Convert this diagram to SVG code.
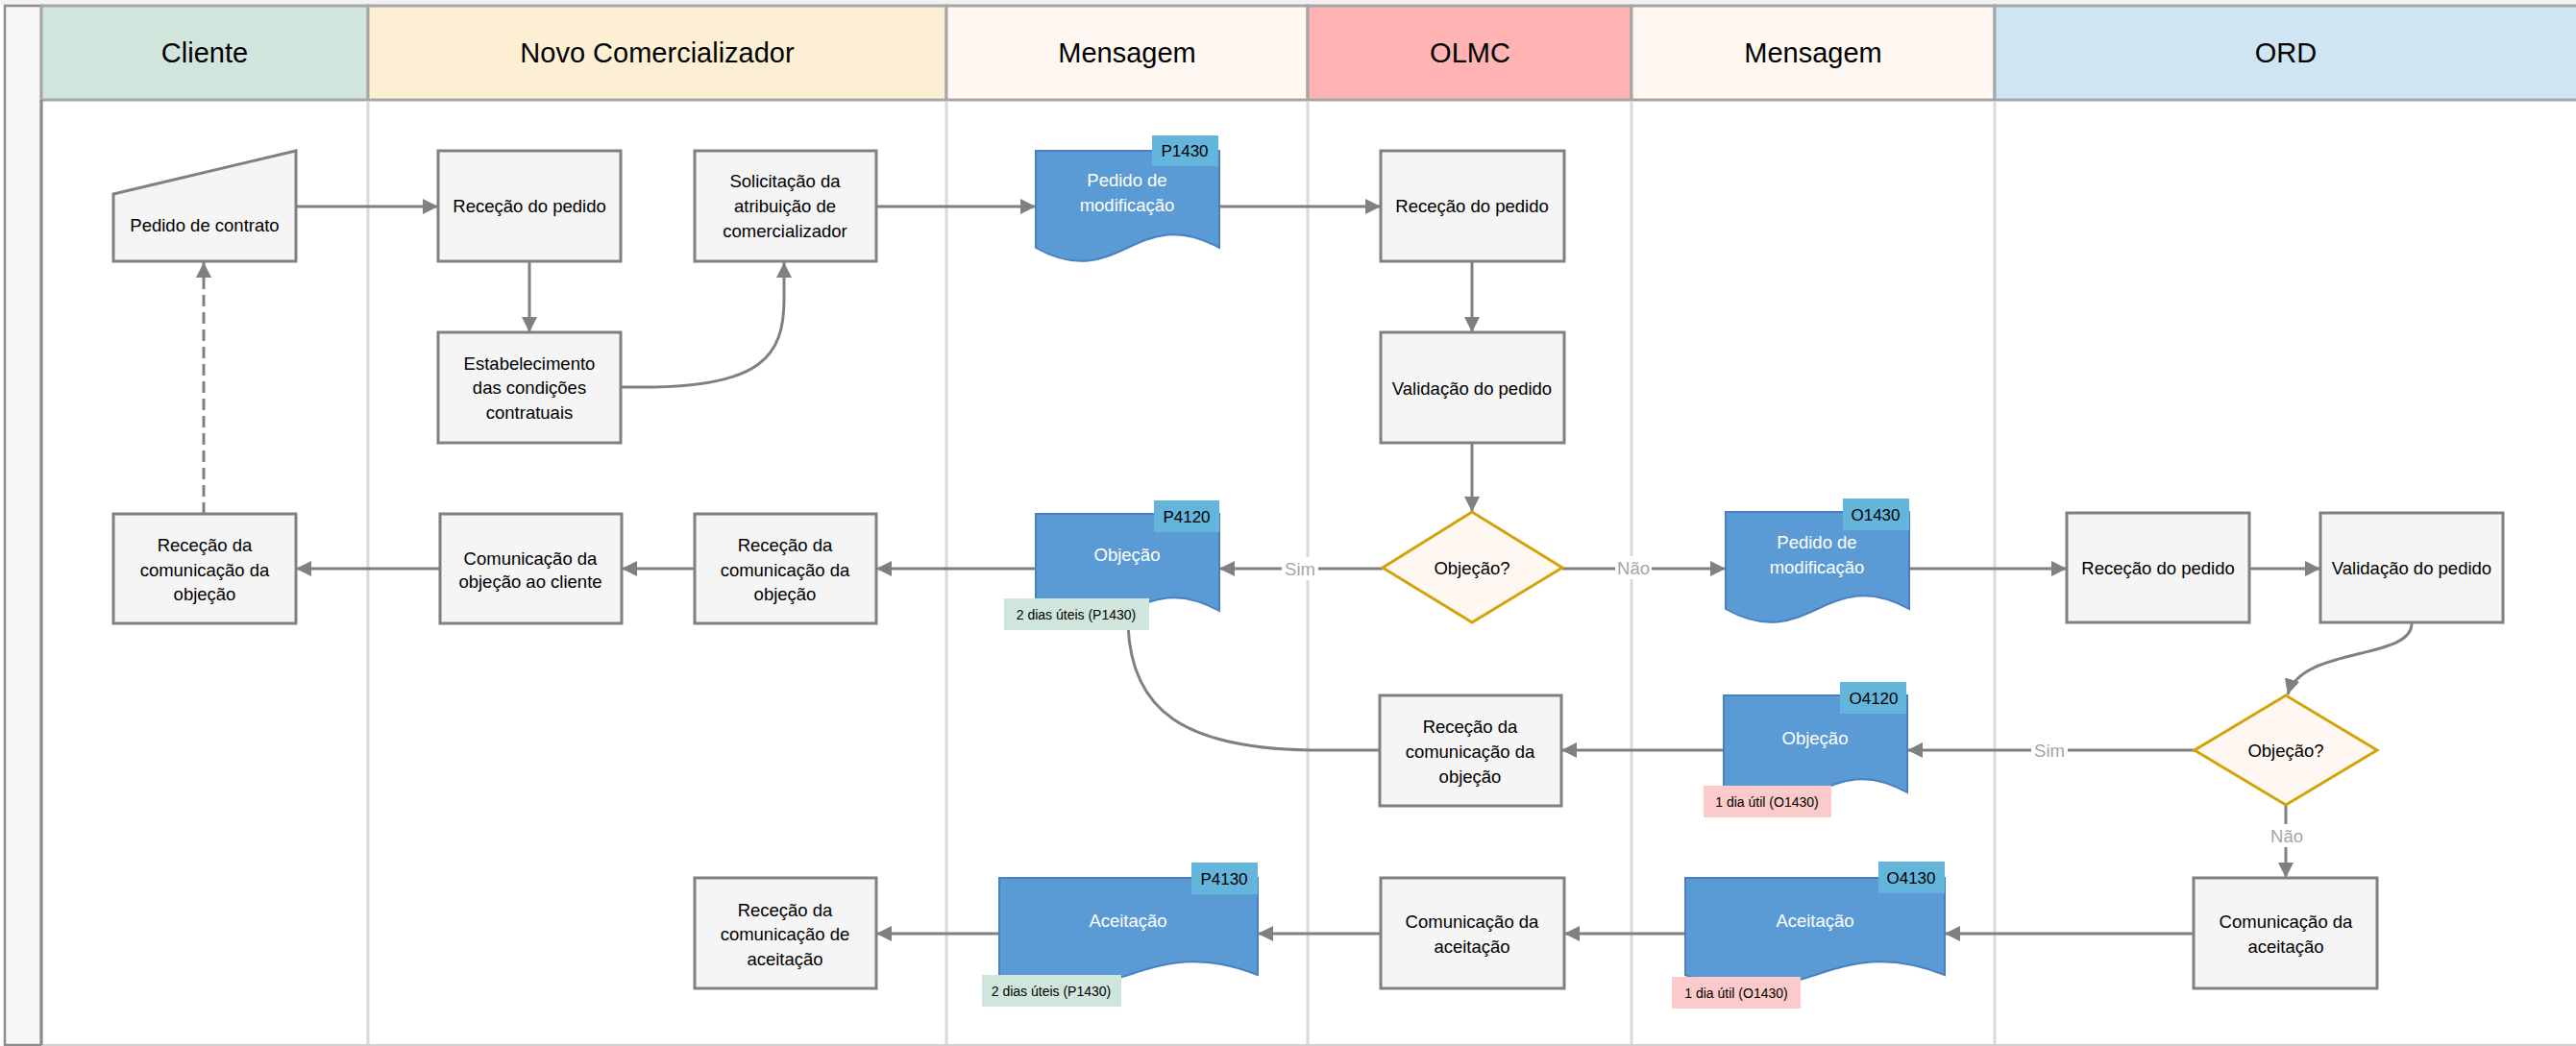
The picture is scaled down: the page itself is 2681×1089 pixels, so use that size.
<svg xmlns="http://www.w3.org/2000/svg" width="2681" height="1089" viewBox="0 0 2681 1089">
<style>
text{font-family:"Liberation Sans",Arial,sans-serif;text-anchor:middle}
.hd{font-size:29px;fill:#000}
.lane{stroke:#d9d9d9;stroke-width:3}
.hb{stroke:#a6a6a6;stroke-width:3}
.box{fill:#f5f5f5;stroke:#808080;stroke-width:3}
.t{font-size:18.5px;fill:#000}
.dt{font-size:18.5px;fill:#fff}
.doc{fill:#5b9bd5;stroke:#4a80bf;stroke-width:2}
.tag{fill:#64b5dc}
.tt{font-size:17px;fill:#000}
.dia{fill:#fff8f2;stroke:#d4a20a;stroke-width:3}
.lg{fill:#d0e6dd}
.lr{fill:#fccaca}
.lt{font-size:14px;fill:#000}
.c{fill:none;stroke:#808080;stroke-width:3}
.ca{fill:none;stroke:#808080;stroke-width:3;marker-end:url(#ah)}
.yn{font-size:18.5px;fill:#a6a6a6}
</style>
<defs>
<marker id="ah" markerUnits="userSpaceOnUse" markerWidth="17" markerHeight="17" refX="16" refY="8" orient="auto">
<path d="M0,0 L16,8 L0,16 z" fill="#808080"/>
</marker>
</defs>
<rect x="0" y="0" width="2681" height="1089" fill="#fff"/>
<rect x="0" y="0" width="2681" height="5" fill="#f2f2f2"/>
<g id="lanes">
<rect x="5" y="6" width="38" height="1082" fill="#f7f7f7" stroke="#8c8c8c" stroke-width="2.5"/>
<rect id="h-cliente" x="43" y="6" width="340" height="98" fill="#d0e6dd" class="hb"/>
<rect id="h-novo" x="383" y="6" width="602" height="98" fill="#fdefd3" class="hb"/>
<rect id="h-msg1" x="985" y="6" width="376" height="98" fill="#fff8f2" class="hb"/>
<rect id="h-olmc" x="1361" y="6" width="337" height="98" fill="#ffb3b3" class="hb"/>
<rect id="h-msg2" x="1698" y="6" width="378" height="98" fill="#fff8f2" class="hb"/>
<rect id="h-ord" x="2076" y="6" width="610" height="98" fill="#cfe5f3" class="hb"/>
<text class="hd" x="213" y="65">Cliente</text>
<text class="hd" x="684" y="65">Novo Comercializador</text>
<text class="hd" x="1173" y="65">Mensagem</text>
<text class="hd" x="1530" y="65">OLMC</text>
<text class="hd" x="1887" y="65">Mensagem</text>
<text class="hd" x="2379" y="65">ORD</text>
<line class="lane" x1="383" y1="105" x2="383" y2="1088"/>
<line class="lane" x1="985" y1="105" x2="985" y2="1088"/>
<line class="lane" x1="1361" y1="105" x2="1361" y2="1088"/>
<line class="lane" x1="1698" y1="105" x2="1698" y2="1088"/>
<line class="lane" x1="2076" y1="105" x2="2076" y2="1088"/>
<line x1="43" y1="1088" x2="2681" y2="1088" stroke="#d0d0d0" stroke-width="2"/>
<line x1="43" y1="104" x2="43" y2="1088" stroke="#8c8c8c" stroke-width="3"/>
</g>
<g id="connectors">
<path class="ca" d="M308,215 H456"/>
<path class="ca" d="M551,272 V346"/>
<path class="ca" d="M646,403 H680 C790,401 816,372 816,312 V273"/>
<path class="ca" d="M912,215 H1078"/>
<path class="ca" d="M1269,215 H1437"/>
<path class="ca" d="M1532,272 V346"/>
<path class="ca" d="M1532,461 V533"/>
<path class="ca" d="M1439,592 H1269"/>
<path class="ca" d="M1078,592 H912"/>
<path class="ca" d="M723,592 H647"/>
<path class="ca" d="M458,592 H308"/>
<path class="ca" d="M212,535 V273" stroke-dasharray="12 6"/>
<path class="ca" d="M1626,592 H1796"/>
<path class="ca" d="M1987,592 H2151"/>
<path class="ca" d="M2341,592 H2415"/>
<path class="ca" d="M2510,648 C2512,688 2396,672 2381,723"/>
<path class="ca" d="M2284,781 H1985"/>
<path class="ca" d="M1794,781 H1625"/>
<path class="c" d="M1436,781 H1365 C1232,779 1177,740 1174,650"/>
<path class="ca" d="M2379,838 V914"/>
<path class="ca" d="M2283,972 H2024"/>
<path class="ca" d="M1754,972 H1628"/>
<path class="ca" d="M1437,972 H1309"/>
<path class="ca" d="M1040,972 H912"/>
<rect x="1334" y="580" width="38" height="24" fill="#fff"/>
<text class="yn" x="1353" y="599">Sim</text>
<rect x="1681" y="579" width="38" height="24" fill="#fff"/>
<text class="yn" x="1700" y="598">Não</text>
<rect x="2114" y="769" width="38" height="24" fill="#fff"/>
<text class="yn" x="2133" y="788">Sim</text>
<rect x="2361" y="858" width="38" height="24" fill="#fff"/>
<text class="yn" x="2380" y="877">Não</text>
</g>
<g id="n-pedido-contrato">
<polygon class="box" points="118,202 308,157 308,272 118,272"/>
<text class="t" x="213" y="241">Pedido de contrato</text>
</g>
<g id="n-nc-rececao">
<rect class="box" x="456" y="157" width="190" height="115"/>
<text class="t" x="551" y="221">Receção do pedido</text>
</g>
<g id="n-solicitacao">
<rect class="box" x="723" y="157" width="189" height="115"/>
<text class="t" x="817" y="195">Solicitação da</text>
<text class="t" x="817" y="221">atribuição de</text>
<text class="t" x="817" y="247">comercializador</text>
</g>
<g id="n-p1430">
<path class="doc" d="M1078,157 H1269 V258 C1183,210 1164,306 1078,258 Z"/>
<rect class="tag" x="1199" y="141" width="69" height="32"/>
<text class="tt" x="1233" y="163">P1430</text>
<text class="dt" x="1173" y="194">Pedido de</text>
<text class="dt" x="1173" y="220">modificação</text>
</g>
<g id="n-olmc-rececao">
<rect class="box" x="1437" y="157" width="191" height="115"/>
<text class="t" x="1532" y="221">Receção do pedido</text>
</g>
<g id="n-estabelecimento">
<rect class="box" x="456" y="346" width="190" height="115"/>
<text class="t" x="551" y="385">Estabelecimento</text>
<text class="t" x="551" y="410">das condições</text>
<text class="t" x="551" y="436">contratuais</text>
</g>
<g id="n-olmc-validacao">
<rect class="box" x="1437" y="346" width="191" height="115"/>
<text class="t" x="1532" y="411">Validação do pedido</text>
</g>
<g id="n-cliente-rececao-obj">
<rect class="box" x="118" y="535" width="190" height="114"/>
<text class="t" x="213" y="574">Receção da</text>
<text class="t" x="213" y="600">comunicação da</text>
<text class="t" x="213" y="625">objeção</text>
</g>
<g id="n-nc-comunicacao-obj">
<rect class="box" x="458" y="535" width="189" height="114"/>
<text class="t" x="552" y="588">Comunicação da</text>
<text class="t" x="552" y="612">objeção ao cliente</text>
</g>
<g id="n-nc-rececao-obj">
<rect class="box" x="723" y="535" width="189" height="114"/>
<text class="t" x="817" y="574">Receção da</text>
<text class="t" x="817" y="600">comunicação da</text>
<text class="t" x="817" y="625">objeção</text>
</g>
<g id="n-p4120">
<path class="doc" d="M1078,535 H1269 V636 C1183,588 1164,684 1078,636 Z"/>
<rect class="tag" x="1201" y="521" width="68" height="33"/>
<text class="tt" x="1235" y="544">P4120</text>
<text class="dt" x="1173" y="584">Objeção</text>
<rect class="lg" x="1045" y="623" width="151" height="33"/>
<text class="lt" x="1120" y="645">2 dias úteis (P1430)</text>
</g>
<g id="n-olmc-decisao">
<polygon class="dia" points="1532,533 1626,591 1532,648 1439,591"/>
<text class="t" x="1532" y="598">Objeção?</text>
</g>
<g id="n-o1430">
<path class="doc" d="M1796,533 H1987 V634 C1901,586 1882,682 1796,634 Z"/>
<rect class="tag" x="1918" y="519" width="69" height="33"/>
<text class="tt" x="1952" y="542">O1430</text>
<text class="dt" x="1891" y="571">Pedido de</text>
<text class="dt" x="1891" y="597">modificação</text>
</g>
<g id="n-ord-rececao">
<rect class="box" x="2151" y="534" width="190" height="114"/>
<text class="t" x="2246" y="598">Receção do pedido</text>
</g>
<g id="n-ord-validacao">
<rect class="box" x="2415" y="534" width="190" height="114"/>
<text class="t" x="2510" y="598">Validação do pedido</text>
</g>
<g id="n-olmc-rececao-obj">
<rect class="box" x="1436" y="724" width="189" height="115"/>
<text class="t" x="1530" y="763">Receção da</text>
<text class="t" x="1530" y="789">comunicação da</text>
<text class="t" x="1530" y="815">objeção</text>
</g>
<g id="n-o4120">
<path class="doc" d="M1794,724 H1985 V825 C1899,777 1880,873 1794,825 Z"/>
<rect class="tag" x="1915" y="710" width="69" height="33"/>
<text class="tt" x="1950" y="733">O4120</text>
<text class="dt" x="1889" y="775">Objeção</text>
<rect class="lr" x="1773" y="818" width="133" height="33"/>
<text class="lt" x="1839" y="840">1 dia útil (O1430)</text>
</g>
<g id="n-ord-decisao">
<polygon class="dia" points="2379,724 2474,781 2379,838 2284,781"/>
<text class="t" x="2379" y="788">Objeção?</text>
</g>
<g id="n-nc-rececao-aceit">
<rect class="box" x="723" y="914" width="189" height="115"/>
<text class="t" x="817" y="954">Receção da</text>
<text class="t" x="817" y="979">comunicação de</text>
<text class="t" x="817" y="1005">aceitação</text>
</g>
<g id="n-p4130">
<path class="doc" d="M1040,914 H1309 V1015 C1188,967 1161,1063 1040,1015 Z"/>
<rect class="tag" x="1240" y="898" width="69" height="33"/>
<text class="tt" x="1274" y="921">P4130</text>
<text class="dt" x="1174" y="965">Aceitação</text>
<rect class="lg" x="1022" y="1015" width="145" height="33"/>
<text class="lt" x="1094" y="1037">2 dias úteis (P1430)</text>
</g>
<g id="n-olmc-comunicacao-aceit">
<rect class="box" x="1437" y="914" width="191" height="115"/>
<text class="t" x="1532" y="966">Comunicação da</text>
<text class="t" x="1532" y="992">aceitação</text>
</g>
<g id="n-o4130">
<path class="doc" d="M1754,914 H2024 V1015 C1903,967 1876,1063 1754,1015 Z"/>
<rect class="tag" x="1955" y="897" width="69" height="33"/>
<text class="tt" x="1989" y="920">O4130</text>
<text class="dt" x="1889" y="965">Aceitação</text>
<rect class="lr" x="1740" y="1017" width="134" height="33"/>
<text class="lt" x="1807" y="1039">1 dia útil (O1430)</text>
</g>
<g id="n-ord-comunicacao-aceit">
<rect class="box" x="2283" y="914" width="191" height="115"/>
<text class="t" x="2379" y="966">Comunicação da</text>
<text class="t" x="2379" y="992">aceitação</text>
</g>
</svg>
